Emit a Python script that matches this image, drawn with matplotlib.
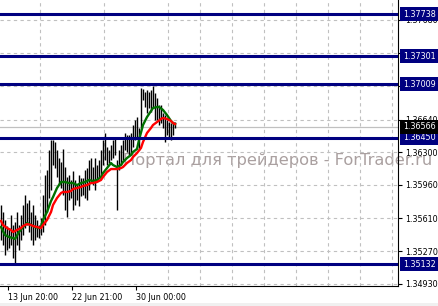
import matplotlib
matplotlib.use('Agg')
import matplotlib.pyplot as plt
from matplotlib.ticker import FormatStrFormatter

# price bars (high / low), one per bar index
highs = [1.35750, 1.35677, 1.35594, 1.35531, 1.35510, 1.35646, 1.35542, 1.35573,
         1.35677, 1.35542, 1.35646, 1.35750, 1.35854, 1.35771, 1.35802, 1.35677,
         1.35750, 1.35646, 1.35594, 1.35542, 1.35615, 1.35854, 1.36063, 1.36115,
         1.36324, 1.36428, 1.36428, 1.36407, 1.36324, 1.36240, 1.36198, 1.36334,
         1.36146, 1.36042, 1.36063, 1.36011, 1.36104, 1.36011, 1.35958, 1.36063,
         1.36032, 1.36032, 1.36115, 1.36135, 1.36219, 1.36240, 1.36146, 1.36240,
         1.36167, 1.36219, 1.36324, 1.36428, 1.36501, 1.36355, 1.36324, 1.36372,
         1.36428, 1.36459, 1.36219, 1.36324, 1.36372, 1.36428, 1.36501, 1.36480,
         1.36480, 1.36501, 1.36584, 1.36636, 1.36667, 1.36553, 1.36970, 1.36959,
         1.36928, 1.36949, 1.36928, 1.36949, 1.36991, 1.36918, 1.36865, 1.36792,
         1.36792, 1.36709, 1.36688, 1.36636, 1.36615, 1.36605, 1.36615, 1.36615]
lows = [1.35385, 1.35333, 1.35229, 1.35281, 1.35302, 1.35333, 1.35198, 1.35146,
        1.35333, 1.35281, 1.35385, 1.35437, 1.35510, 1.35542, 1.35469, 1.35385,
        1.35333, 1.35385, 1.35417, 1.35406, 1.35437, 1.35469, 1.35542, 1.35677,
        1.35823, 1.35907, 1.36167, 1.36135, 1.36042, 1.35958, 1.35927, 1.35854,
        1.35698, 1.35625, 1.35802, 1.35823, 1.35698, 1.35750, 1.35802, 1.35740,
        1.35844, 1.35854, 1.35823, 1.35802, 1.35907, 1.35990, 1.35958, 1.35907,
        1.36011, 1.36032, 1.36063, 1.36167, 1.36219, 1.36167, 1.36188, 1.36219,
        1.36240, 1.36271, 1.35698, 1.36115, 1.36167, 1.36219, 1.36324, 1.36303,
        1.36271, 1.36292, 1.36355, 1.36428, 1.36449, 1.36324, 1.36553, 1.36845,
        1.36772, 1.36709, 1.36761, 1.36720, 1.36772, 1.36636, 1.36636, 1.36584,
        1.36605, 1.36553, 1.36407, 1.36480, 1.36449, 1.36428, 1.36480, 1.36553]

# moving averages
fast_idx = [0, 2, 4, 6, 7, 9, 11, 13, 15, 17, 19, 20, 21, 23, 25, 26, 28, 30, 32, 34,
            36, 38, 40, 42, 44, 46, 48, 50, 51, 53, 55, 56, 58, 60, 61, 63, 65, 66,
            68, 69, 71, 73, 75, 76, 78, 79, 81, 83, 84, 85, 86, 87]
fast_ma = [1.35521, 1.35437, 1.35417, 1.35406, 1.35396, 1.35469, 1.35521, 1.35563,
           1.35542, 1.35521, 1.35510, 1.35521, 1.35594, 1.35677, 1.35792, 1.35833,
           1.35927, 1.35990, 1.35990, 1.35979, 1.35979, 1.35958, 1.35979, 1.35990,
           1.36011, 1.36000, 1.36011, 1.36042, 1.36083, 1.36135, 1.36188, 1.36167,
           1.36146, 1.36167, 1.36198, 1.36240, 1.36271, 1.36303, 1.36334, 1.36428,
           1.36584, 1.36667, 1.36730, 1.36761, 1.36772, 1.36772, 1.36741, 1.36688,
           1.36657, 1.36626, 1.36605, 1.36594]
slow_idx = [0, 1, 3, 5, 6, 8, 10, 11, 13, 15, 16, 18, 20, 21, 23, 25, 26, 28, 30, 31,
            33, 35, 36, 38, 40, 41, 43, 45, 46, 48, 50, 51, 53, 55, 58, 60, 61, 63,
            65, 66, 68, 70, 71, 73, 75, 76, 78, 80, 81, 83, 85, 86, 87]
slow_ma = [1.35584, 1.35542, 1.35510, 1.35490, 1.35469, 1.35490, 1.35510, 1.35531,
           1.35552, 1.35542, 1.35531, 1.35521, 1.35510, 1.35542, 1.35594, 1.35677,
           1.35750, 1.35823, 1.35875, 1.35886, 1.35886, 1.35896, 1.35917, 1.35927,
           1.35938, 1.35948, 1.35958, 1.35979, 1.35979, 1.35990, 1.36011, 1.36042,
           1.36094, 1.36125, 1.36125, 1.36135, 1.36146, 1.36188, 1.36219, 1.36250,
           1.36292, 1.36345, 1.36407, 1.36501, 1.36553, 1.36584, 1.36615, 1.36647,
           1.36657, 1.36647, 1.36626, 1.36605, 1.36594]

levels = [1.37738, 1.37301, 1.37009, 1.36450, 1.35132]
last_price = 1.36566

y_ticks = [1.34930, 1.35270, 1.35610, 1.35960, 1.36300, 1.36640, 1.36990, 1.37330, 1.37680]
x_tick_pos = [3.5, 35.5, 67.5]
x_tick_labels = ['13 Jun 20:00', '22 Jun 21:00', '30 Jun 00:00']

plt.rcParams['font.family'] = 'DejaVu Sans'

fig = plt.figure(figsize=(4.39, 3.06), dpi=100, facecolor='white')
ax = fig.add_axes([0, 20 / 306, 398 / 439, 286 / 306])
ax.set_facecolor('none')
ax.set_zorder(1)

idx = list(range(len(highs)))
ax.vlines(idx, lows, highs, color='black', lw=1.0, zorder=3)
ax.plot(fast_idx, fast_ma, color='#007000', lw=1.7, zorder=4)
ax.plot(slow_idx, slow_ma, color='#ff0000', lw=1.7, zorder=4)

for lv in levels:
    ax.axhline(lv, color='#000080', lw=2.2, zorder=5)
ax.axhline(last_price, color='#c0c0c0', lw=0.9, zorder=2)

ax.set_xlim(-0.5, 198.5)
ax.set_ylim(1.34906, 1.37887)

ax.set_xticks(x_tick_pos)
ax.set_xticklabels(x_tick_labels, ha='left')
ax.set_xticks([3.5 + 16 * k for k in range(13)], minor=True)
ax.tick_params(axis='x', which='major', length=3, width=0.8, labelsize=5.8, pad=2)
ax.tick_params(axis='x', which='minor', length=0)

ax.yaxis.tick_right()
ax.set_yticks(y_ticks)
ax.yaxis.set_major_formatter(FormatStrFormatter('%.5f'))
ax.tick_params(axis='y', length=3, width=0.8, labelsize=5.8, pad=2)

ax.grid(True, which='minor', axis='x', color='#c0c0c0', ls=(0, (3, 3)), lw=0.8)
ax.grid(True, which='major', axis='y', color='#c0c0c0', ls=(0, (3, 3)), lw=0.8)
ax.set_axisbelow(True)

ax.spines['top'].set_visible(False)
ax.spines['left'].set_visible(False)
ax.spines['bottom'].set_linewidth(0.8)
ax.spines['right'].set_linewidth(0.8)

trans = ax.get_yaxis_transform()
for lv in levels:
    ax.text(1.012, lv, '%.5f' % lv, transform=trans, fontsize=5.8, color='white',
            va='center', ha='left', clip_on=False, zorder=10,
            bbox=dict(boxstyle='square,pad=0.3', fc='#000080', ec='none'))
ax.text(1.012, last_price, '%.5f' % last_price, transform=trans, fontsize=5.8,
        color='white', va='center', ha='left', clip_on=False, zorder=10,
        bbox=dict(boxstyle='square,pad=0.3', fc='black', ec='none'))

fig.text(0.633, 0.474, 'Портал для трейдеров - ForTrader.ru', fontsize=11.7,
         color='#aaa0a0', ha='center', va='center', zorder=0.5)

fig.patches.append(plt.Rectangle((0, 0), 1, 3 / 306, transform=fig.transFigure,
                                 fc='#f0f0f0', ec='none'))

fig.savefig('out.png', dpi=100)
